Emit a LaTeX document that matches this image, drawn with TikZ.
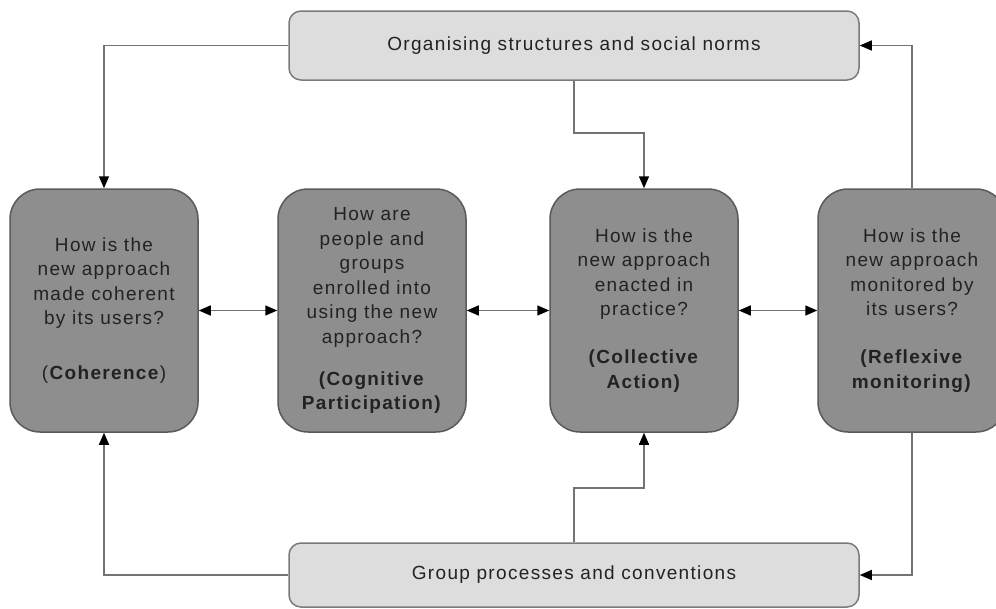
\documentclass[tikz,border=0pt]{standalone}
\usepackage{fontspec}
\setmainfont{Liberation Sans}[LetterSpace=7]
\usetikzlibrary{arrows.meta}
\definecolor{boxfill}{HTML}{8E8E8E}
\definecolor{boxline}{HTML}{5A5A5A}
\definecolor{ctxfill}{HTML}{DDDDDD}
\definecolor{ctxline}{HTML}{7A7A7A}
\definecolor{linecol}{HTML}{737373}
\definecolor{textcol}{HTML}{222222}
\begin{document}
\begin{tikzpicture}[x=1pt,y=-1pt,
  question/.style={draw=boxline,line width=1.5pt,fill=boxfill,rounded corners=30pt,minimum width=188pt,minimum height=243pt,inner sep=0pt,align=center,text=textcol,font=\fontsize{19}{24.5}\selectfont},
  context/.style={draw=ctxline,line width=1.5pt,fill=ctxfill,rounded corners=12pt,minimum width=570pt,inner sep=0pt,text=textcol,font=\fontsize{19}{24.5}\selectfont},
  link/.style={draw=linecol,line width=1.5pt,-{Triangle[length=12pt,width=10pt,color=black]}},
  twoway/.style={draw=linecol,line width=1.5pt,{Triangle[length=12pt,width=10pt,color=black]}-{Triangle[length=12pt,width=10pt,color=black]}}]
  \useasboundingbox (0,0) rectangle (996,608);
  \node (org) at (574,45.5) [context,minimum height=69pt] {Organising structures and social norms};
  \node (grp) at (574,575) [context,minimum height=64pt] {Group processes and conventions};
  \node (coh) at (104,310.5) [question] {How is the\\new approach\\made coherent\\by its users?\\[30pt](\textbf{Coherence})};
  \node (cog) at (372,310.5) [question] {How are\\people and\\groups\\enrolled into\\using the new\\approach?\\[17.5pt]\textbf{(Cognitive}\\\textbf{Participation)}};
  \node (act) at (644,310.5) [question] {How is the\\new approach\\enacted in\\practice?\\[23.5pt]\textbf{(Collective}\\\textbf{Action)}};
  \node (mon) at (912,310.5) [question] {How is the\\new approach\\monitored by\\its users?\\[23.5pt]\textbf{(Reflexive}\\\textbf{monitoring)}};
  \coordinate (topbend) at (574,133);
  \coordinate (lowbend) at (574,488);
  \draw[link] (org.west) -| (coh.north);
  \draw[link] (org.south) -- (topbend) -| (act.north);
  \draw[link] (mon.north) |- (org.east);
  \draw[link] (grp.west) -| (coh.south);
  \draw[link] (grp.north) -- (lowbend) -| (act.south);
  \draw[link] (mon.south) |- (grp.east);
  \draw[twoway] (coh) -- (cog);
  \draw[twoway] (cog) -- (act);
  \draw[twoway] (act) -- (mon);
\end{tikzpicture}
\end{document}
